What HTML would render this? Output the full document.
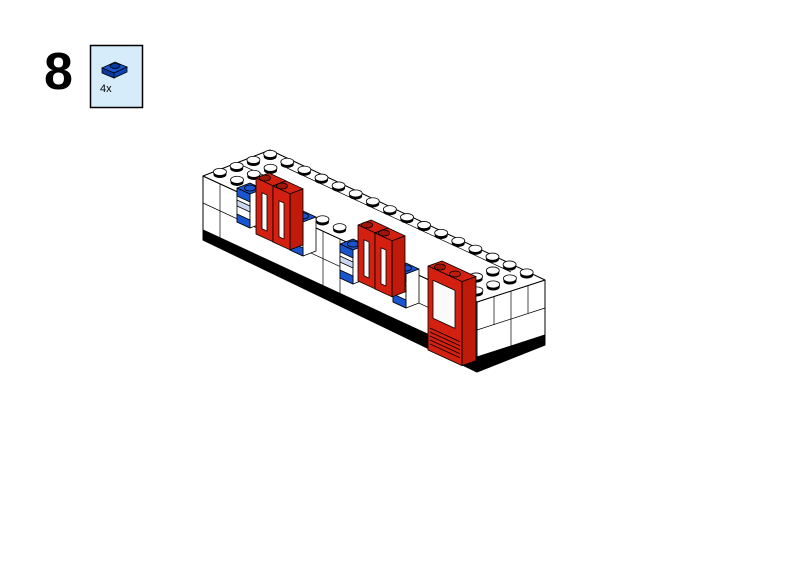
<!DOCTYPE html>
<html><head><meta charset="utf-8"><style>
html,body{margin:0;padding:0;background:#fff;width:800px;height:566px;overflow:hidden}
</style></head><body>
<svg id="s" width="800" height="566" viewBox="0 0 800 566" xmlns="http://www.w3.org/2000/svg" font-family="Liberation Sans, sans-serif">
<text x="44" y="89" font-size="52" font-weight="bold" fill="#000">8</text>
<rect x="90.5" y="45.5" width="52" height="62" fill="#d6ecfb" stroke="#000" stroke-width="1.5"/>
<polygon points="102,68 115,62 127,67 114,73" fill="#1a55d0" stroke="#000" stroke-width="0.8"/>
<polygon points="102,68 114,73 114,78 102,73" fill="#0b3a9e" stroke="#000" stroke-width="0.8"/>
<polygon points="114,73 127,67 127,72 114,78" fill="#0d44b5" stroke="#000" stroke-width="0.8"/>
<ellipse cx="115" cy="66" rx="5" ry="2.5" fill="#0b3a9e" stroke="#000" stroke-width="0.8"/>
<text x="100" y="92" font-size="11" fill="#000">4x</text>
<g stroke="#000" stroke-width="1" stroke-linejoin="round">
<polygon points="203,230 477,357 545,335 545,345 477,372 203,240" fill="#000"/>
<polygon points="203,176 477,302 477,357 203,230" fill="#fff"/>
<polygon points="477,302 545,280 545,335 477,357" fill="#fff"/>
<polygon points="203,176 270,150 545,280 477,302" fill="#fff"/>
<line x1="203" y1="203" x2="477" y2="330" stroke-width="0.7"/>
<line x1="477" y1="330" x2="545" y2="308" stroke-width="0.7"/>
<line x1="220" y1="184" x2="220" y2="238" stroke-width="0.7"/>
<line x1="323" y1="231" x2="323" y2="286" stroke-width="0.7"/>
<line x1="340" y1="239" x2="340" y2="304" stroke-width="0.7"/>
<line x1="511" y1="291" x2="511" y2="346" stroke-width="0.7"/>
<line x1="494" y1="297" x2="494" y2="325" stroke-width="0.7"/>
<line x1="528" y1="286" x2="528" y2="313" stroke-width="0.7"/>
<polyline points="237,163 287,186" fill="none" stroke-width="0.7"/>
<line x1="287" y1="158" x2="287" y2="168" stroke-width="0.7"/>
<line x1="287" y1="168" x2="511" y2="272" stroke-width="0.7"/>
</g>
<g id="studs"></g>
<g id="parts" stroke="#000" stroke-width="0.8" stroke-linejoin="round"></g>
</svg>
<script>
var NS="http://www.w3.org/2000/svg";
var sg=document.getElementById('studs');
function stud(i,j){
 var x=270+(i+0.5)*17.1-(j+0.5)*16.75, y=150+(i+0.5)*7.9+(j+0.5)*6-3;
 var a=document.createElementNS(NS,'ellipse');a.setAttribute('cx',x);a.setAttribute('cy',y+2.5);a.setAttribute('rx',6.5);a.setAttribute('ry',3.6);a.setAttribute('fill','#000');sg.appendChild(a);
 var b=document.createElementNS(NS,'ellipse');b.setAttribute('cx',x);b.setAttribute('cy',y);b.setAttribute('rx',6.5);b.setAttribute('ry',3.6);b.setAttribute('fill','#fff');b.setAttribute('stroke','#000');b.setAttribute('stroke-width','0.8');sg.appendChild(b);
}
for(var i=0;i<16;i++){stud(i,0);}
[0,1,14,15].forEach(function(i){stud(i,1);stud(i,2);stud(i,3);});
[6,7].forEach(function(i){stud(i,3);});
var pg=document.getElementById('parts');
function poly(p,f){var e=document.createElementNS(NS,'polygon');e.setAttribute('points',p);e.setAttribute('fill',f);pg.appendChild(e);}
function ell(x,y,f){var e=document.createElementNS(NS,'ellipse');e.setAttribute('cx',x);e.setAttribute('cy',y);e.setAttribute('rx',5.5);e.setAttribute('ry',3);e.setAttribute('fill',f);pg.appendChild(e);}
function blue(x,y){
 poly((x)+','+(y)+' '+(x+13)+','+(y-5)+' '+(x+26)+','+(y+1)+' '+(x+13)+','+(y+6),'#1a55d0');
 poly((x)+','+(y)+' '+(x+13)+','+(y+6)+' '+(x+13)+','+(y+40)+' '+(x)+','+(y+34),'#fff');
 poly((x+13)+','+(y+6)+' '+(x+26)+','+(y+1)+' '+(x+26)+','+(y+35)+' '+(x+13)+','+(y+40),'#fff');
 poly((x)+','+(y)+' '+(x+13)+','+(y+6)+' '+(x+13)+','+(y+14)+' '+(x)+','+(y+8),'#1a55d0');
 poly((x)+','+(y+26)+' '+(x+13)+','+(y+32)+' '+(x+13)+','+(y+40)+' '+(x)+','+(y+34),'#1a55d0');
 poly((x)+','+(y+12)+' '+(x+13)+','+(y+18)+' '+(x+13)+','+(y+24)+' '+(x)+','+(y+18),'#c9d8ef');
 ell(x+13,y,'#1a55d0');
}
function win(x,y,door){
 var w=door?34:17, h=door?84:56, dx=door?14:13, dy=-5;
 for(var k=0;k<(door?1:2);k++){
  var xx=x+k*17, yy=y+k*8;
  poly(xx+','+yy+' '+(xx+dx)+','+(yy+dy)+' '+(xx+dx+w)+','+(yy+dy+w*0.46)+' '+(xx+w)+','+(yy+w*0.46),'#d42010');
  poly((xx+w)+','+(yy+w*0.46)+' '+(xx+dx+w)+','+(yy+dy+w*0.46)+' '+(xx+dx+w)+','+(yy+dy+w*0.46+h)+' '+(xx+w)+','+(yy+w*0.46+h),'#c01a0a');
  poly(xx+','+yy+' '+(xx+w)+','+(yy+w*0.46)+' '+(xx+w)+','+(yy+w*0.46+h)+' '+xx+','+(yy+h),'#d42010');
  var ix=xx+(door?5:6), iw=door?22:5;
  poly(ix+','+(yy+12+(ix-xx)*0.46)+' '+(ix+iw)+','+(yy+12+(ix+iw-xx)*0.46)+' '+(ix+iw)+','+(yy+h-(door?34:8)+(ix+iw-xx)*0.46)+' '+ix+','+(yy+h-(door?34:8)+(ix-xx)*0.46),'#fafafa');
  if(door){
   for(var r=0;r<5;r++){var ly=yy+h-22+r*4;var l=document.createElementNS(NS,'line');l.setAttribute('x1',xx+2);l.setAttribute('y1',ly);l.setAttribute('x2',xx+w-2);l.setAttribute('y2',ly+(w-4)*0.46);pg.appendChild(l);}
   ell(xx+12,yy+1,'#a01508');ell(xx+27,yy+8,'#c01a0a');
  } else {
   ell(xx+9,yy+0,'#a01508');
  }
 }
}
blue(237,188);blue(290,216);blue(340,244);blue(393,268);
win(256,178,false);win(358,225,false);win(428,266,true);
</script>
</body></html>
